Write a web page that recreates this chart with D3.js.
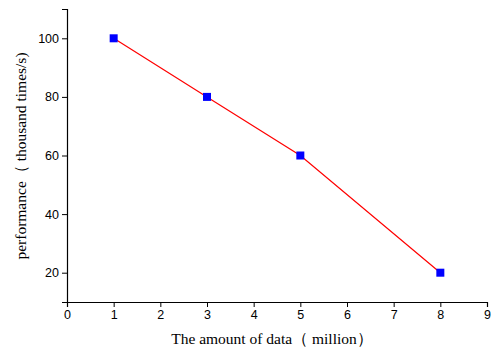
<!DOCTYPE html>
<html><head><meta charset="utf-8">
<script src="https://cdn.jsdelivr.net/npm/d3@7"></script>
<style>html,body{margin:0;padding:0;background:#fff;}</style>
</head><body>
<script>
const xValues = [1, 3, 5, 8];
const yValues = [100, 80, 60, 20];
const xTicks = [0,1,2,3,4,5,6,7,8,9];
const yTicks = [20,40,60,80,100];
const xTitle = "The amount of data\uFF08  million\uFF09";
const yTitle = "performance\uFF08 thousand times/s)";

const W = 494, H = 349;
const m = {left: 67, top: 9, right: 7, bottom: 47};
const svg = d3.select("body").append("svg").attr("width", W).attr("height", H);
const x = d3.scaleLinear().domain([0, 9]).range([m.left, W - m.right]);
const y = d3.scaleLinear().domain([10, 110]).range([H - m.bottom, m.top]);

const font = "'Liberation Sans', Arial, sans-serif";
const serif = "'Liberation Serif', 'Times New Roman', serif";

// x axis
const gx = svg.append("g").attr("transform", `translate(0,${y(10)})`);
gx.call(d3.axisBottom(x).tickValues(d3.range(0.5, 9, 1)).tickSize(3).tickFormat(""));
gx.call(d3.axisBottom(x).tickValues(xTicks).tickSize(5).tickPadding(3).tickFormat(d3.format("d")));
gx.selectAll(".domain").attr("stroke", "#000").attr("stroke-width", 1.2);
gx.selectAll("text").attr("font-family", font).attr("font-size", 12.5).attr("fill", "#000");

// y axis
const gy = svg.append("g").attr("transform", `translate(${x(0)},0)`);
gy.call(d3.axisLeft(y).tickValues(d3.range(10, 111, 10).filter(v => v % 20 !== 0)).tickSize(3).tickFormat(""));
gy.call(d3.axisLeft(y).tickValues(yTicks).tickSize(5).tickPadding(3).tickFormat(d3.format("d")));
gy.selectAll(".domain").attr("stroke", "#000").attr("stroke-width", 1.2);
gy.selectAll("text").attr("font-family", font).attr("font-size", 12.5).attr("fill", "#000");

// line
const data = xValues.map((v, i) => [v, yValues[i]]);
svg.append("path").datum(data)
  .attr("fill", "none").attr("stroke", "#ff0000").attr("stroke-width", 1.2)
  .attr("d", d3.line().x(d => x(d[0])).y(d => y(d[1])));
svg.selectAll("rect.pt").data(data).enter().append("rect").attr("class", "pt")
  .attr("x", d => x(d[0]) - 4).attr("y", d => y(d[1]) - 4)
  .attr("width", 8).attr("height", 8).attr("fill", "#0000ff");

// titles
svg.append("text").attr("x", 272).attr("y", 344).attr("text-anchor", "middle")
  .attr("font-family", serif).attr("font-size", 15.5).text(xTitle);
svg.append("text").attr("transform", `translate(26,156) rotate(-90)`).attr("text-anchor", "middle")
  .attr("font-family", serif).attr("font-size", 15.5).text(yTitle);
</script>
</body></html>
